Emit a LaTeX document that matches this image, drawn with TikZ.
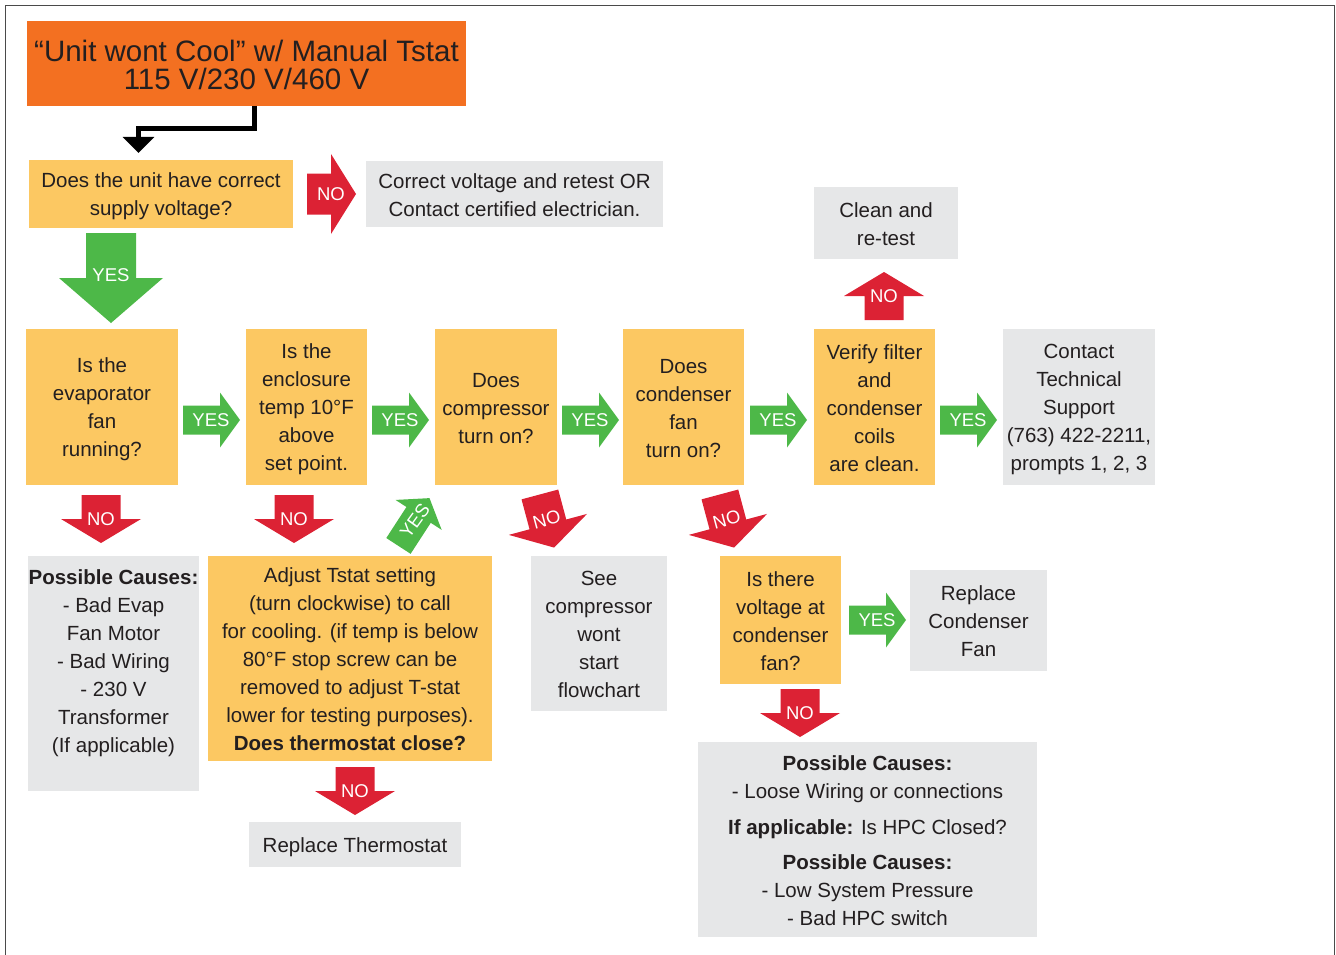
\documentclass[tikz,border=0pt]{standalone}
\usepackage{fontspec}
\setmainfont{Liberation Sans}
\usetikzlibrary{arrows.meta}
\definecolor{cOrange}{HTML}{F37021}
\definecolor{cYellow}{HTML}{FCC862}
\definecolor{cGray}{HTML}{E6E7E8}
\definecolor{cRed}{HTML}{DC2234}
\definecolor{cGreen}{HTML}{4DB848}
\definecolor{cText}{HTML}{231F20}
\definecolor{cFrame}{HTML}{4A4A4A}
\newcommand\s{\rule[-4pt]{0pt}{24pt}}
% #1 name of label point, #2 junction, #3 rotation, #4 body length, #5 body half width,
% #6 head length, #7 head half width, #8 colour, #9 label offset along axis
\newcommand\blockarrow[9]{%
  \begin{scope}[shift={#2},rotate=#3]
    \fill[#8] (-#4,-#5) -- (0,-#5) -- (0,-#7) -- (#6,0) -- (0,#7) -- (0,#5) -- (-#4,#5) -- cycle;
    \coordinate (#1) at (#9,0);
  \end{scope}}
\tikzset{
  box/.style={inner sep=0pt, outer sep=0pt, align=center, text=cText,
    font=\fontsize{20.5}{28}\selectfont, anchor=north west},
  ybox/.style={box, fill=cYellow},
  gbox/.style={box, fill=cGray},
  lbl/.style={text=white, font=\fontsize{18.5}{19}\selectfont, inner sep=0pt},
  elbow/.style={line width=5pt, draw=black, line join=miter,
    -{Triangle[width=31pt,length=16pt]}, shorten >=7pt},
}
\begin{document}
\begin{tikzpicture}[x=1pt,y=-1pt]
\useasboundingbox (0,0) rectangle (1336,955);
% frame
\draw[cFrame, line width=1.3pt] (5.5,955) -- (5.5,5.5) -- (1334.5,5.5) -- (1334.5,955);

% title
\node[box, fill=cOrange, minimum width=439pt, minimum height=85pt,
      font=\fontsize{29.5}{28}\selectfont] (title) at (27,21)
  {\rule{0pt}{24pt}“Unit wont Cool” w/ Manual Tstat\\115 V/230 V/460 V};

% first question
\node[ybox, minimum width=264pt, minimum height=68pt] (q1) at (29,160)
  {\s Does the unit have correct\\supply voltage?\s};
\node[gbox, minimum width=297pt, minimum height=66pt] (r1) at (366,161)
  {\s Correct voltage and retest OR\\Contact certified electrician.\s};

\draw[elbow] ([xshift=8pt]title.south) -- ++(0,22.5) -| ([xshift=-22.5pt]q1.north);

% main row
\node[ybox, minimum width=152pt, minimum height=156pt] (a) at (26,329)
  {\s Is the\\evaporator\\fan\\running?\s};
\node[ybox, minimum width=121pt, minimum height=156pt] (b) at (246,329)
  {\s Is the\\enclosure\\temp 10°F\\above\\set point.\s};
\node[ybox, minimum width=122pt, minimum height=156pt] (c) at (435,329)
  {\s Does\\compressor\\turn on?\s};
\node[ybox, minimum width=121pt, minimum height=156pt] (d) at (623,329)
  {\s Does\\condenser\\fan\\turn on?\s};
\node[ybox, minimum width=121pt, minimum height=156pt] (e) at (814,329)
  {\s Verify filter\\and\\condenser\\coils\\are clean.\s};
\node[gbox, minimum width=152pt, minimum height=156pt] (f) at (1003,329)
  {\s Contact\\Technical\\Support\\(763) 422-2211,\\prompts 1, 2, 3\s};
\node[gbox, minimum width=144pt, minimum height=72pt] (clean) at (814,187)
  {\s Clean and\\re-test\s};

% lower boxes
\node[gbox, minimum width=171pt, minimum height=235pt] (pc1) at (28,556) {};
\node[box, anchor=north] (pc1t) at (113.5,564)
  {\s\textbf{Possible Causes:}\\- Bad Evap\\Fan Motor\\- Bad Wiring\\- 230 V\\Transformer\\(If applicable)\s};
\node[ybox, minimum width=284pt, minimum height=205pt] (adj) at (208,556)
  {\s Adjust Tstat setting\\(turn clockwise) to call\\for cooling. (if temp is below\\80°F stop screw can be\\removed to adjust T-stat\\lower for testing purposes).\\\textbf{Does thermostat close?}\s};
\node[gbox, minimum width=212pt, minimum height=45pt] (rt) at (249,822)
  {\s Replace Thermostat};
\node[gbox, minimum width=136pt, minimum height=155pt] (see) at (531,556)
  {\s See\\compressor\\wont\\start\\flowchart\s};
\node[ybox, minimum width=121pt, minimum height=128pt] (vq) at (720,556)
  {\s Is there\\voltage at\\condenser\\fan?\s};
\node[gbox, minimum width=137pt, minimum height=101pt] (rcf) at (910,570)
  {\s Replace\\Condenser\\Fan\s};
\node[gbox, minimum width=339pt, minimum height=195pt] (pc2) at (698,742)
  {\s\textbf{Possible Causes:}\\- Loose Wiring or connections\\[8pt]\textbf{If applicable:} Is HPC Closed?\\[7pt]\textbf{Possible Causes:}\\- Low System Pressure\\- Bad HPC switch\s};

% block arrows
\blockarrow{l1}{(111,278)}{-90}{45}{25}{45}{52}{cGreen}{-3}
\node[lbl] (t1) at (l1) {YES};
\blockarrow{l2}{(331,194)}{0}{24}{20.5}{25}{40}{cRed}{0}
\node[lbl] (t2) at (l2) {NO};
\foreach \jx/\nm in {220/ya,409/yb,599/yc,787/yd,977/ye}{
  \blockarrow{\nm}{(\jx,420)}{0}{37}{14.5}{20}{27.5}{cGreen}{-9}
  \node[lbl] (t\nm) at (\nm) {YES};
}
\blockarrow{l3}{(886,620)}{0}{37}{14.5}{20}{27.5}{cGreen}{-9}
\node[lbl] (t3) at (l3) {YES};
\blockarrow{l4}{(884,296)}{90}{24}{19.5}{24}{40}{cRed}{0}
\node[lbl] (t4) at (l4) {NO};
\foreach \jx/\jy/\nm in {101/519/na,294/519/nb,355/791/nc,800/713/nd}{
  \blockarrow{\nm}{(\jx,\jy)}{-90}{24}{19.5}{24}{40}{cRed}{0}
  \node[lbl] (t\nm) at (\nm) {NO};
}
\blockarrow{l5}{(418.6,514.9)}{57}{37}{14.5}{20}{27.5}{cGreen}{-7}
\node[lbl, rotate=54] (t5) at (l5) {YES};
\blockarrow{l6}{(547.9,524.4)}{-75}{31}{19}{24}{40.5}{cRed}{-5}
\node[lbl, rotate=15] (t6) at (l6) {NO};
\blockarrow{l7}{(727.9,524.4)}{-75}{31}{19}{24}{40.5}{cRed}{-5}
\node[lbl, rotate=15] (t7) at (l7) {NO};
\end{tikzpicture}
\end{document}
